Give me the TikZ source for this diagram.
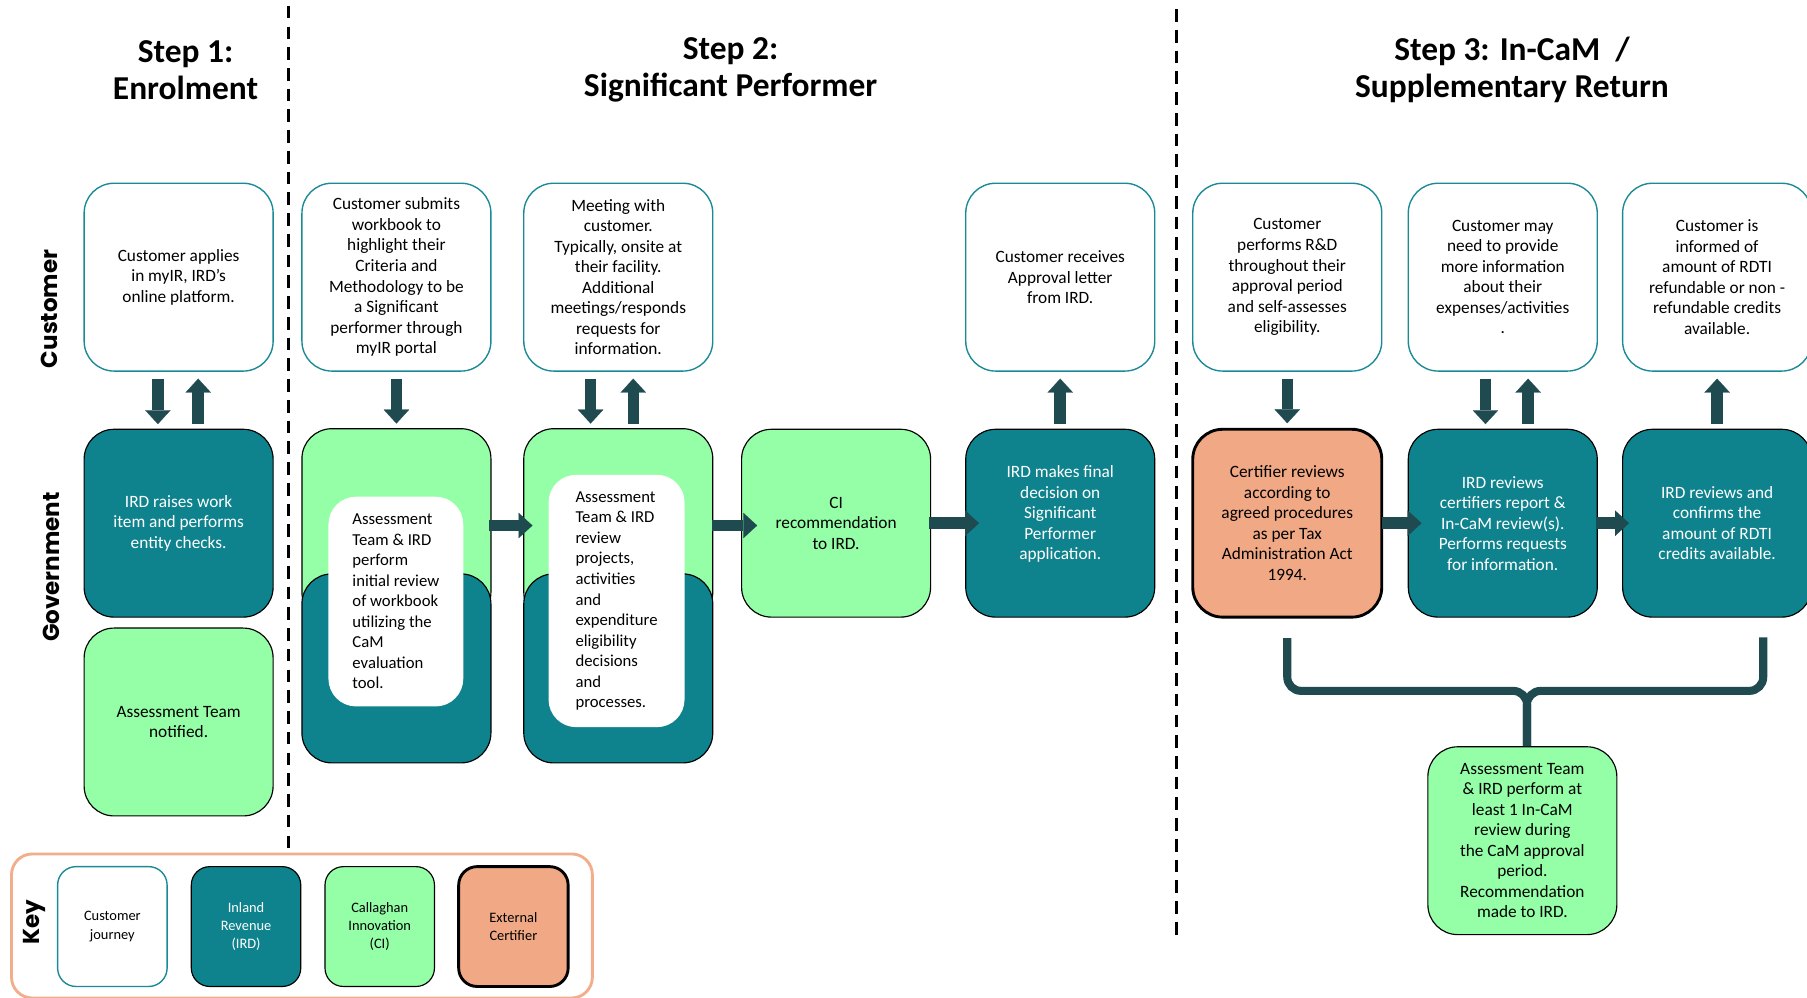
\documentclass[tikz,border=0pt]{standalone}
\usepackage{fontspec}
\setmainfont{Carlito}
\newfontfamily\lanefont{Poppins}
\usetikzlibrary{arrows.meta}

\definecolor{irdteal}{HTML}{0F838D}
\definecolor{cigreen}{HTML}{94FFA6}
\definecolor{certorange}{HTML}{F1A985}
\definecolor{arrowdark}{HTML}{1F4A50}
\definecolor{custedge}{HTML}{1A8A96}
\definecolor{keyedge}{HTML}{F2AE8A}

\begin{document}
\begin{tikzpicture}[x=1pt, y=-1pt,
  box/.style={rounded corners=26pt, minimum width=164pt, minimum height=163pt, align=center, inner sep=4pt, font=\fontsize{15}{17.8}\selectfont},
  cust/.style={box, draw=custedge, line width=1.2pt, fill=white},
  ird/.style={box, draw=black, line width=1pt, fill=irdteal, text=white},
  ci/.style={box, draw=black, line width=1pt, fill=cigreen},
  cert/.style={box, draw=black, line width=2.5pt, fill=certorange},
  innerbox/.style={rounded corners=24pt, fill=white, align=left, font=\fontsize{14.5}{17.8}\selectfont},
  keybox/.style={minimum width=95pt, minimum height=104pt, rounded corners=16pt, font=\fontsize{12.5}{16}\selectfont},
  flow/.style={draw=arrowdark, line width=10pt, -{Triangle[width=22pt, length=12pt, line width=0.1pt]}},
  brace/.style={draw=arrowdark, line width=7pt, rounded corners=12pt},
  sep/.style={line width=2.5pt, dash pattern=on 11pt off 7pt},
  title/.style={font=\fontsize{29}{32}\selectfont\bfseries, align=center},
  lane/.style={font=\lanefont\bfseries\fontsize{20}{24}\selectfont, rotate=90}
]
\useasboundingbox (0,0) rectangle (1568,866);

%% titles and lanes
\node[title] (t1) at (161,61) {Step 1:\\Enrolment};
\node[title] (t2) at (634,61) {Step 2:\\Significant Performer};
\node[title] (t3) at (1312,61) {Step 3: In-CaM~~/\\Supplementary Return};

\node[lane] (lc) at (43,268) {Customer};
\node[lane] (lg) at (45,492) {Government};

\draw[sep] (250,5) -- (250,740);
\draw[sep] (1021,8) -- (1021,812);

%% customer row
\node[cust] (c1) at (155,240.5) {Customer applies\\in myIR, IRD’s\\online platform.};
\node[cust] (c2) at (344,240.5) {Customer submits\\workbook to\\highlight their\\Criteria and\\Methodology to be\\a Significant\\performer through\\myIR portal};
\node[cust] (c3) at (536.5,240.5) {Meeting with\\customer.\\Typically, onsite at\\their facility.\\Additional\\meetings/responds\\requests for\\information.};
\node[cust] (c4) at (920,240.5) {Customer receives\\Approval letter\\from IRD.};
\node[cust] (c5) at (1117,240.5) {Customer\\performs R\&D\\throughout their\\approval period\\and self-assesses\\eligibility.};
\node[cust] (c6) at (1304,240.5) {Customer may\\need to provide\\more information\\about their\\expenses/activities\\.};
\node[cust] (c7) at (1490,240.5) {Customer is\\informed of\\amount of RDTI\\refundable or non -\\refundable credits\\available.};

%% government row
\node[ird] (g1) at (155,454) {IRD raises work\\item and performs\\entity checks.};
\node[ci] (g1b) at (155,626.5) {Assessment Team\\notified.};

\node[ci, minimum height=168pt] (g2top) at (344,456) {};
\node[ird, minimum height=164pt] (g2low) at (344,580) {};
\node[innerbox, minimum width=117pt, minimum height=182pt] (g2txt) at (343.5,522) {Assessment\\Team \& IRD\\perform\\initial review\\of workbook\\utilizing the\\CaM\\evaluation\\tool.};

\node[ci, minimum height=168pt] (g3top) at (536.5,456) {};
\node[ird, minimum height=164pt] (g3low) at (536.5,580) {};
\node[innerbox, minimum width=118pt, minimum height=219pt] (g3txt) at (535,521.5) {Assessment\\Team \& IRD\\review\\projects,\\activities\\and\\expenditure\\eligibility\\decisions\\and\\processes.};

\node[ci] (g4) at (725.5,454) {CI\\recommendation\\to IRD.};
\node[ird] (g5) at (920,454) {IRD makes final\\decision on\\Significant\\Performer\\application.\\};
\node[cert] (g6) at (1117,454) {Certifier reviews\\according to\\agreed procedures\\as per Tax\\Administration Act\\1994.};
\node[ird] (g7) at (1304,454) {IRD reviews\\certifiers report \&\\In-CaM review(s).\\Performs requests\\for information.};
\node[ird] (g8) at (1490,454) {IRD reviews and\\confirms the\\amount of RDTI\\credits available.};

\node[ci] (cam) at (1321,729.5) {Assessment Team\\\& IRD perform at\\least 1 In-CaM\\review during\\the CaM approval\\period.\\Recommendation\\made to IRD.};

%% arrows between the rows
\draw[flow, shorten <=6pt, shorten >=4pt] ([xshift=-18pt]c1.south) -- ([xshift=-18pt]g1.north);
\draw[flow, shorten <=4pt, shorten >=6pt] ([xshift=17pt]g1.north) -- ([xshift=17pt]c1.south);
\draw[flow, shorten <=6pt, shorten >=4pt] (c2.south) -- (g2top.north);
\draw[flow, shorten <=6pt, shorten >=4pt] ([xshift=-24pt]c3.south) -- ([xshift=-24pt]g3top.north);
\draw[flow, shorten <=4pt, shorten >=6pt] ([xshift=13pt]g3top.north) -- ([xshift=13pt]c3.south);
\draw[flow, shorten <=4pt, shorten >=6pt] (g5.north) -- (c4.south);
\draw[flow, shorten <=6pt, shorten >=4pt] (c5.south) -- (g6.north);
\draw[flow, shorten <=6pt, shorten >=4pt] ([xshift=-15pt]c6.south) -- ([xshift=-15pt]g7.north);
\draw[flow, shorten <=4pt, shorten >=6pt] ([xshift=22pt]g7.north) -- ([xshift=22pt]c6.south);
\draw[flow, shorten <=4pt, shorten >=6pt] (g8.north) -- (c7.south);

%% arrows along the government row
\draw[flow, shorten <=-2pt, shorten >=-8pt] (g2top.east) -- (g3top.west);
\draw[flow, shorten <=-1pt, shorten >=-14pt] (g3top.east) -- (g4.west |- g3top.east);
\draw[flow, shorten <=-2pt, shorten >=-12pt] (g4.east) -- (g5.west);
\draw[flow, shorten <=-1pt, shorten >=-12pt] (g6.east) -- (g7.west);
\draw[flow, shorten <=-1pt, shorten >=-6pt] (g7.east) -- (g8.west);

%% brace to the In-CaM review
\draw[brace] ([yshift=-17pt]g6.south) |- ([xshift=4pt, yshift=48pt]cam.north) -- ([xshift=4pt]cam.north);
\draw[brace] ([xshift=40pt, yshift=-17pt]g8.south) |- ([xshift=4pt, yshift=48pt]cam.north) -- ([xshift=4pt]cam.north);

%% key
\draw[keyedge, line width=2.5pt, rounded corners=18pt] (10,741) rectangle (514,866);
\node[lane] (lk) at (30,800) {Key};
\node[cust, keybox] (k1) at (97.5,804) {Customer\\journey};
\node[ird, keybox] (k2) at (213.5,804) {Inland\\Revenue\\(IRD)};
\node[ci, keybox] (k3) at (329.5,804) {Callaghan\\Innovation\\(CI)};
\node[cert, keybox] (k4) at (445.5,804) {External\\Certifier};
\end{tikzpicture}
\end{document}
